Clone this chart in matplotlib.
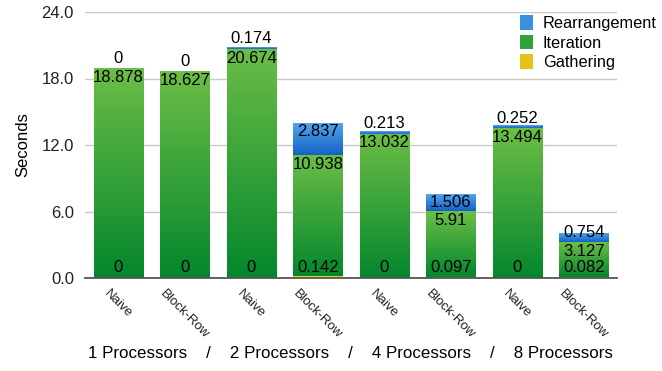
import numpy as np
import matplotlib.pyplot as plt
from matplotlib.colors import LinearSegmentedColormap
from matplotlib.patches import Patch

plt.rcParams['font.family'] = ['Liberation Sans', 'DejaVu Sans']

# data
methods = ['Naive', 'Block-Row'] * 4
processors = ['1 Processors', '2 Processors', '4 Processors', '8 Processors']
gathering = [0, 0, 0, 0.142, 0, 0.097, 0, 0.082]
iteration = [18.878, 18.627, 20.674, 10.938, 13.032, 5.91, 13.494, 3.127]
rearrangement = [0, 0, 0.174, 2.837, 0.213, 1.506, 0.252, 0.754]

# (bottom colour, top colour) for the gradient fills
yellow = ('#c89f10', '#f7dc22')
green = ('#03872c', '#6cbe46')
blue = ('#1461c6', '#52a4ec')

fig, ax = plt.subplots(figsize=(6.62, 3.71), dpi=100)
fig.subplots_adjust(left=85/662, right=617/662, top=1-12/371, bottom=1-278/371)

x = np.arange(len(methods))
g = np.array(gathering)
it = np.array(iteration)
r = np.array(rearrangement)

layers = [('Gathering', g, np.zeros(len(x)), yellow),
          ('Iteration', it, g, green),
          ('Rearrangement', r, g + it, blue)]

grad = np.linspace(0, 1, 256).reshape(-1, 1)
for name, vals, bottom, (c0, c1) in layers:
    bars = ax.bar(x, vals, 0.74, bottom=bottom, color='none', edgecolor='none')
    cmap = LinearSegmentedColormap.from_list(name, [c0, c1])
    for p in bars.patches:
        if p.get_height() <= 0:
            continue
        ax.imshow(grad, cmap=cmap, origin='lower', aspect='auto', zorder=2,
                  extent=[p.get_x(), p.get_x() + p.get_width(),
                          p.get_y(), p.get_y() + p.get_height()])

# value labels
fs = 12
for i in x:
    ax.text(i, 0.25, f'{g[i]:g}', ha='center', va='bottom', fontsize=fs, zorder=4)
    ax.text(i, g[i] + it[i] - 0.15, f'{it[i]:g}', ha='center', va='top', fontsize=fs, zorder=4)
    if r[i] >= 1:
        ax.text(i, g[i] + it[i] + r[i] - 0.05, f'{r[i]:g}', ha='center', va='top', fontsize=fs, zorder=4)
    else:
        ax.text(i, g[i] + it[i] + 0.25, f'{r[i]:g}', ha='center', va='bottom', fontsize=fs, zorder=4)

ax.set_xlim(-0.5, len(x) - 0.5)
ax.set_ylim(0, 24)
ax.set_yticks([0, 6, 12, 18, 24])
ax.set_yticklabels([f'{v:.1f}' for v in [0, 6, 12, 18, 24]], fontsize=12)
ax.set_xticks(x)
ax.set_xticklabels(methods, rotation=-45, ha='center', va='top', fontsize=9.5)
ax.tick_params(axis='y', length=0, pad=8, colors='#222222')
ax.tick_params(axis='x', length=0, pad=7, colors='#222222')
ax.set_ylabel('Seconds', fontsize=12, labelpad=8)

for s in ['left', 'right', 'top']:
    ax.spines[s].set_visible(False)
ax.spines['bottom'].set_color('#555555')
ax.spines['bottom'].set_linewidth(1.3)
ax.spines['bottom'].set_zorder(5)
ax.yaxis.grid(True, color='#c8c8c8', linewidth=1)
ax.set_axisbelow(True)

handles = [Patch(facecolor='#3a8fe0', label='Rearrangement'),
           Patch(facecolor='#2fa33a', label='Iteration'),
           Patch(facecolor='#e3c21a', label='Gathering')]
fig.legend(handles=handles, loc='upper left', bbox_to_anchor=(520/662, 1-15/371),
           frameon=False, fontsize=11.8, borderpad=0, borderaxespad=0,
           handlelength=0.8, handleheight=1.0, handletextpad=0.6, labelspacing=0.22)

fig.text(350/662, 1-354/371, '    /    '.join(processors), ha='center', va='center', fontsize=12.2)

fig.savefig('out.png', dpi=100)
